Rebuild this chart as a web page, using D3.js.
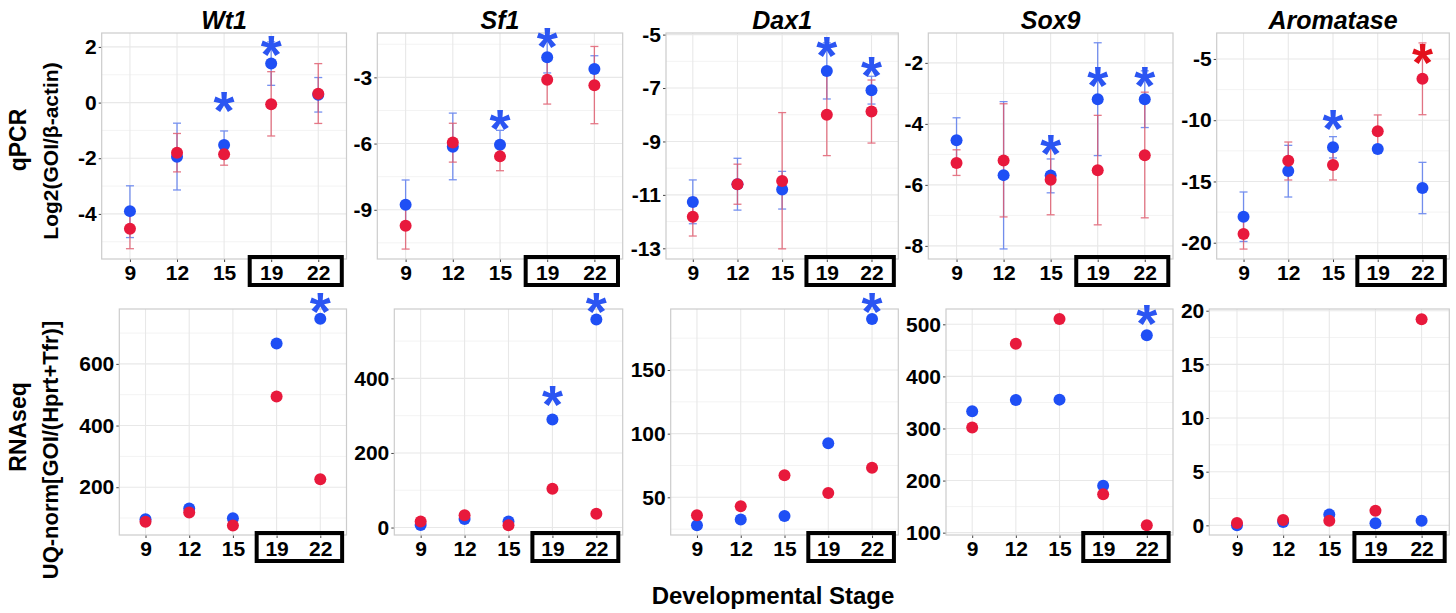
<!DOCTYPE html>
<html>
<head>
<meta charset="utf-8">
<script src="https://cdn.jsdelivr.net/npm/d3@7"></script>
<style>
  body { margin: 0; background: #fff; }
  svg { display: block; font-family: 'Liberation Sans', Arial, sans-serif; }
</style>
</head>
<body>
<svg id="chart" width="1456" height="613"></svg>
<script>
'use strict';

// categories
var stages = ['9', '12', '15', '19', '22'];
var genes = ['Wt1', 'Sf1', 'Dax1', 'Sox9', 'Aromatase'];

// qPCR log2 values (blue / red), one row per gene
var qBlueMean = [
  [-3.90, -1.95, -1.52, 1.40, 0.28],
  [-8.77, -6.14, -6.05, -2.09, -2.62],
  [-11.27, -10.60, -10.80, -6.36, -7.08],
  [-4.54, -5.68, -5.69, -3.19, -3.19],
  [-17.88, -14.15, -12.21, -12.35, -15.54]
];
var qBlueLo = [
  [-4.85, -3.14, -2.02, 0.62, -0.34],
  [-9.89, -7.64, -6.70, -2.80, -3.22],
  [-12.08, -11.57, -11.53, -7.41, -7.60],
  [-5.28, -8.10, -6.26, -5.04, -4.12],
  [-19.90, -16.27, -13.08, -12.65, -17.63]
];
var qBlueHi = [
  [-2.99, -0.74, -1.02, 2.18, 0.90],
  [-7.65, -4.62, -5.40, -1.38, -2.02],
  [-10.44, -9.63, -10.12, -5.31, -6.56],
  [-3.80, -3.27, -5.15, -1.34, -2.26],
  [-15.86, -12.05, -11.34, -12.05, -13.44]
];
var qRedMean = [
  [-4.53, -1.80, -1.86, -0.06, 0.32],
  [-9.72, -5.95, -6.58, -3.11, -3.36],
  [-11.82, -10.60, -10.48, -8.00, -7.88],
  [-5.28, -5.20, -5.83, -5.52, -5.03],
  [-19.29, -13.30, -13.66, -10.91, -6.61]
];
var qRedLo = [
  [-5.25, -2.49, -2.25, -1.20, -0.75],
  [-10.78, -6.84, -7.23, -4.21, -5.10],
  [-12.54, -11.35, -13.02, -9.53, -9.06],
  [-5.69, -7.05, -6.98, -7.31, -7.08],
  [-20.52, -14.88, -14.88, -12.25, -9.55]
];
var qRedHi = [
  [-3.81, -1.11, -1.47, 1.11, 1.40],
  [-8.66, -5.08, -5.93, -2.05, -1.60],
  [-11.10, -9.85, -7.92, -6.47, -6.70],
  [-4.85, -3.34, -4.68, -3.72, -2.96],
  [-18.06, -11.78, -12.44, -9.57, -3.69]
];

// RNAseq values
var rBlue = [
  [96, 131, 99.5, 666, 746],
  [7, 23, 16, 290, 558],
  [28, 32.5, 35.3, 92.4, 190],
  [333, 354.7, 355.4, 190, 479],
  [0.0, 0.31, 1.0, 0.19, 0.43]
];
var rRed = [
  [87.6, 118, 76, 494, 226],
  [16, 33, 6, 104, 37],
  [35.9, 43, 67.3, 53.4, 73.3],
  [302, 462.9, 510, 173.6, 114],
  [0.22, 0.5, 0.43, 1.37, 19.2]
];

// y ticks and ranges
var qTicks = [[-4, -2, 0, 2], [-9, -6, -3], [-13, -11, -9, -7, -5], [-8, -6, -4, -2], [-20, -15, -10, -5]];
var rTicks = [[200, 400, 600], [0, 200, 400], [50, 100, 150], [100, 200, 300, 400, 500], [0, 5, 10, 15, 20]];
var qDomain = [[-5.62, 2.5], [-11.23, -0.99], [-13.4, -4.94], [-8.43, -1.02], [-21.33, -2.88]];
var rDomain = [[45, 778], [-20, 586], [20.4, 197.9], [95.5, 529.4], [-0.9, 20.16]];

// significance stars: [gene, stage, series, value]
var qStars = [
  [0, '15', 'blue', 0.0], [0, '19', 'blue', 2.0],
  [1, '15', 'blue', -4.99], [1, '19', 'blue', -1.26],
  [2, '19', 'blue', -5.5], [2, '22', 'blue', -6.25],
  [3, '15', 'blue', -4.73], [3, '19', 'blue', -2.49], [3, '22', 'blue', -2.49],
  [4, '15', 'blue', -10.09], [4, '22', 'red', -4.65]
];
var rStars = [
  [0, '22', 'blue', 795],
  [1, '19', 'blue', 351], [1, '22', 'blue', 599],
  [2, '22', 'blue', 201.8],
  [3, '22', 'blue', 515]
];

var colors = { blue: '#1f4ff5', red: '#e8193c' };
var barColors = { blue: '#5577ee', red: '#e0576a' };
var starColors = { blue: '#2b55f2', red: '#e3101c' };

// layout
var rowTop = [33, 309];
var rowBottom = [259, 535];
var plotLeft = [[101.7, 377.3, 666, 928.3, 1216.7], [119.3, 394.3, 670.7, 946, 1209.3]];
var plotRight = [346.5, 622.7, 898.3, 1173, 1449.3];

var svg = d3.select('#chart');

function drawPanel(row, gi, domain, ticks, series, stars) {
  var left = plotLeft[row][gi], right = plotRight[gi];
  var top = rowTop[row], bottom = rowBottom[row];

  var x = d3.scalePoint().domain(stages).range([left, right]).padding(0.6);
  var y = d3.scaleLinear().domain(domain).range([bottom, top]);

  var g = svg.append('g');

  // 補助グリッド
  var step = ticks[1] - ticks[0];
  var minors = [];
  for (var v = ticks[0] - step / 2; v <= domain[1]; v += step) {
    if (v >= domain[0]) minors.push(v);
  }
  g.selectAll('.minor').data(minors).enter().append('line')
    .attr('x1', left).attr('x2', right)
    .attr('y1', function(d) { return y(d); })
    .attr('y2', function(d) { return y(d); })
    .attr('stroke', '#f3f3f3').attr('stroke-width', 1);
  g.selectAll('.major').data(ticks).enter().append('line')
    .attr('x1', left).attr('x2', right)
    .attr('y1', function(d) { return y(d); })
    .attr('y2', function(d) { return y(d); })
    .attr('stroke', '#e8e8e8').attr('stroke-width', 1.1);
  g.selectAll('.vgrid').data(stages).enter().append('line')
    .attr('y1', top).attr('y2', bottom)
    .attr('x1', function(d) { return x(d); })
    .attr('x2', function(d) { return x(d); })
    .attr('stroke', '#e8e8e8').attr('stroke-width', 1.1);

  // 軸
  var yAxis = g.append('g')
    .attr('transform', 'translate(' + left + ',0)')
    .call(d3.axisLeft(y).tickValues(ticks).tickSize(3).tickPadding(2)
      .tickFormat(function(d) { return String(d); }));
  var xAxis = g.append('g')
    .attr('transform', 'translate(0,' + bottom + ')')
    .call(d3.axisBottom(x).tickSize(3).tickPadding(3));
  [yAxis, xAxis].forEach(function(ax) {
    ax.select('.domain').remove();
    ax.selectAll('line').attr('stroke', '#444');
    ax.selectAll('text')
      .attr('fill', '#000')
      .style('font-size', '21px')
      .style('font-weight', 'bold')
      .style('font-family', "'Liberation Sans', Arial, sans-serif");
  });

  g.append('rect')
    .attr('x', left).attr('y', top)
    .attr('width', right - left).attr('height', bottom - top)
    .attr('fill', 'none').attr('stroke', '#cccccc').attr('stroke-width', 1.2);

  // error bars
  series.forEach(function(s) {
    if (!s.lo) return;
    var eg = g.append('g')
      .attr('stroke', barColors[s.name]).attr('stroke-width', 1.3).attr('opacity', 0.8);
    stages.forEach(function(st, i) {
      eg.append('line')
        .attr('x1', x(st)).attr('x2', x(st))
        .attr('y1', y(s.lo[i])).attr('y2', y(s.hi[i]));
      [s.lo[i], s.hi[i]].forEach(function(v) {
        eg.append('line')
          .attr('x1', x(st) - 4).attr('x2', x(st) + 4)
          .attr('y1', y(v)).attr('y2', y(v));
      });
    });
  });

  // points
  series.forEach(function(s) {
    g.selectAll('.pt-' + s.name).data(s.mean).enter().append('circle')
      .attr('cx', function(d, i) { return x(stages[i]); })
      .attr('cy', function(d) { return y(d); })
      .attr('r', 6)
      .attr('fill', colors[s.name]);
  });

  // stars
  var fs = 54;
  g.selectAll('.star').data(stars.filter(function(d) { return d[0] === gi; }))
    .enter().append('text')
    .attr('x', function(d) { return x(d[1]); })
    .attr('y', function(d) { return y(d[3]) + fs * 0.48; })
    .attr('text-anchor', 'middle')
    .attr('fill', function(d) { return starColors[d[2]]; })
    .style('font-size', fs + 'px')
    .style('font-weight', 'bold')
    .text('*');

  // 19-22 の囲み
  var st = x.step();
  g.append('rect')
    .attr('x', x('19') - 0.456 * st)
    .attr('y', bottom - 2)
    .attr('width', x('22') + 0.5 * st - (x('19') - 0.456 * st))
    .attr('height', 28)
    .attr('fill', 'none')
    .attr('stroke', '#000')
    .attr('stroke-width', 4);

  // title
  if (row === 0) {
    svg.append('text')
      .attr('x', (left + right) / 2)
      .attr('y', 29)
      .attr('text-anchor', 'middle')
      .style('font-size', '25px')
      .style('font-weight', 'bold')
      .style('font-style', 'italic')
      .text(genes[gi]);
  }
}

genes.forEach(function(gene, gi) {
  drawPanel(0, gi, qDomain[gi], qTicks[gi], [
    { name: 'blue', mean: qBlueMean[gi], lo: qBlueLo[gi], hi: qBlueHi[gi] },
    { name: 'red', mean: qRedMean[gi], lo: qRedLo[gi], hi: qRedHi[gi] }
  ], qStars);
  drawPanel(1, gi, rDomain[gi], rTicks[gi], [
    { name: 'blue', mean: rBlue[gi] },
    { name: 'red', mean: rRed[gi] }
  ], rStars);
});

// 軸タイトル
function rotLabel(txt, x, y, size) {
  svg.append('text')
    .attr('transform', 'translate(' + x + ',' + y + ') rotate(-90)')
    .attr('text-anchor', 'middle')
    .style('font-size', size + 'px')
    .style('font-weight', 'bold')
    .text(txt);
}
rotLabel('qPCR', 26, 140, 23);
rotLabel('Log2(GOI/\u03b2-actin)', 58, 151, 21);
rotLabel('RNAseq', 26, 427, 23);
rotLabel('UQ-norm[GOI/(Hprt+Tfr)]', 58, 450, 22);

svg.append('text')
  .attr('x', 773)
  .attr('y', 604)
  .attr('text-anchor', 'middle')
  .style('font-size', '24px')
  .style('font-weight', 'bold')
  .text('Developmental Stage');
</script>
</body>
</html>
